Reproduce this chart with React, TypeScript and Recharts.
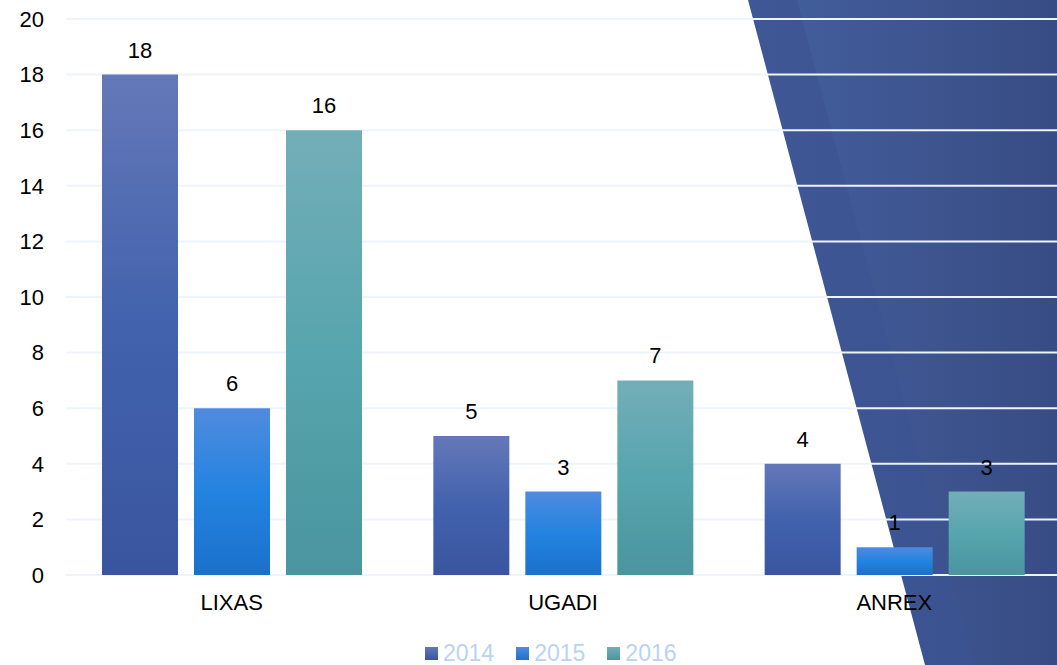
import React from 'react';
import { BarChart, Bar, XAxis, YAxis, CartesianGrid, Legend, LabelList } from 'recharts';

const categories = ['LIXAS', 'UGADI', 'ANREX'];
const series2014 = [18, 5, 4];
const series2015 = [6, 3, 1];
const series2016 = [16, 7, 3];
const yTicks = [0, 2, 4, 6, 8, 10, 12, 14, 16, 18, 20];

const seriesInfo = [
  { key: 'y2014', name: '2014', grad: 'g2014', top: '#6478b8', mid: '#4262ad', bottom: '#3a55a0' },
  { key: 'y2015', name: '2015', grad: 'g2015', top: '#508bdf', mid: '#2383e0', bottom: '#1a71cb' },
  { key: 'y2016', name: '2016', grad: 'g2016', top: '#73aeb8', mid: '#57a5ae', bottom: '#4a959f' },
];

const data = categories.map((name, i) => ({
  name,
  y2014: series2014[i],
  y2015: series2015[i],
  y2016: series2016[i],
}));

const W = 1057;
const H = 665;
const font = 'Liberation Sans, Arial, sans-serif';

const LegendContent = () => (
  <div style={{ display: 'flex', paddingLeft: 425, fontFamily: font, fontSize: 23, color: '#b8d3f7', lineHeight: '26px' }}>
    {seriesInfo.map((s) => (
      <div key={s.key} style={{ display: 'flex', alignItems: 'center', marginRight: 22 }}>
        <span style={{ width: 13, height: 13, display: 'inline-block', marginRight: 5, background: `linear-gradient(${s.top}, ${s.bottom})` }} />
        <span>{s.name}</span>
      </div>
    ))}
  </div>
);

export default function App() {
  return (
    <div style={{ position: 'fixed', left: 0, top: 0, width: W, height: H, background: '#ffffff', overflow: 'hidden' }}>
      <svg width={W} height={H} style={{ position: 'absolute', left: 0, top: 0 }}>
        <defs>
          <linearGradient id="bgStripe" x1="0" y1="0" x2="1" y2="0">
            <stop offset="0%" stopColor="#3f5895" />
            <stop offset="100%" stopColor="#39518f" />
          </linearGradient>
          <linearGradient id="bgMain" x1="0" y1="0" x2="1" y2="0">
            <stop offset="0%" stopColor="#425d9b" />
            <stop offset="100%" stopColor="#384c84" />
          </linearGradient>
        </defs>
        <polygon points={`748,0 ${W},0 ${W},${H} 925,${H}`} fill="url(#bgStripe)" />
        <polygon points={`797,0 ${W},0 ${W},${H} 974,${H}`} fill="url(#bgMain)" />
      </svg>
      <div style={{ position: 'absolute', left: 0, top: 0 }}>
        <BarChart
          width={W}
          height={H}
          data={data}
          margin={{ top: 19, right: -3, left: 0, bottom: 0 }}
          barGap={16}
          barSize={76}
        >
          <defs>
            {seriesInfo.map((s) => (
              <linearGradient key={s.grad} id={s.grad} x1="0" y1="0" x2="0" y2="1">
                <stop offset="0%" stopColor={s.top} />
                <stop offset="50%" stopColor={s.mid} />
                <stop offset="100%" stopColor={s.bottom} />
              </linearGradient>
            ))}
          </defs>
          <CartesianGrid vertical={false} stroke="#eef4fc" strokeWidth={2} />
          <XAxis
            dataKey="name"
            axisLine={false}
            tickLine={false}
            tickSize={0}
            tickMargin={19}
            height={50}
            tick={{ fill: '#000000', fontSize: 22, fontFamily: font }}
          />
          <YAxis
            domain={[0, 20]}
            ticks={yTicks}
            axisLine={false}
            tickLine={false}
            tickSize={0}
            tickMargin={22}
            width={66}
            interval={0}
            tick={{ fill: '#000000', fontSize: 22, fontFamily: font }}
          />
          <Legend
            verticalAlign="bottom"
            content={<LegendContent />}
            wrapperStyle={{ position: 'absolute', left: 0, top: 640, width: W, height: 40 }}
          />
          {seriesInfo.map((s) => (
            <Bar key={s.key} dataKey={s.key} name={s.name} fill={`url(#${s.grad})`} isAnimationActive={false}>
              <LabelList dataKey={s.key} position="top" offset={17} fill="#000000" fontSize={22} fontFamily={font} />
            </Bar>
          ))}
        </BarChart>
      </div>
    </div>
  );
}
